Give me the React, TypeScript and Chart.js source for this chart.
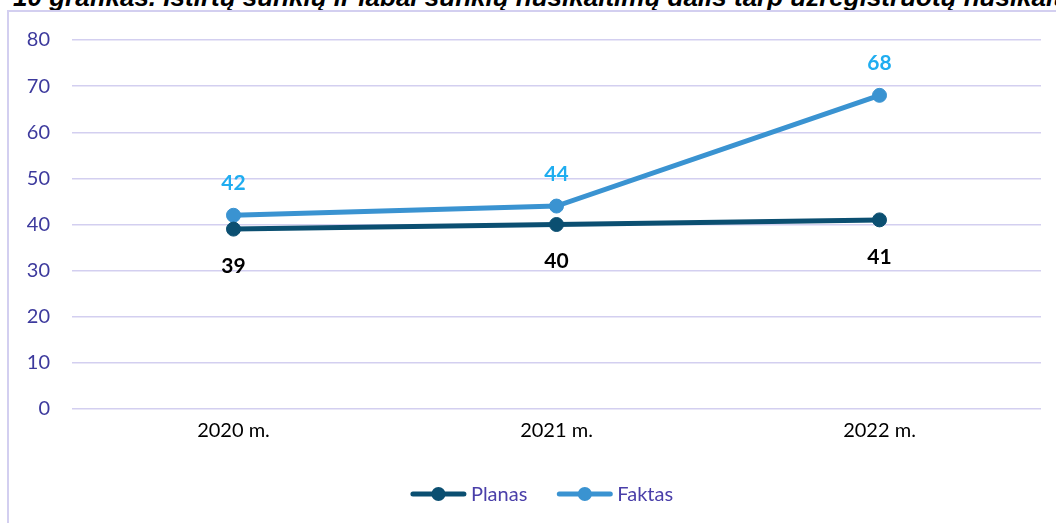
import React, { useEffect, useRef } from "react";
import { Chart, registerables } from "chart.js";

Chart.register(...registerables);

const titleText =
  "10 grafikas. Ištirtų sunkių ir labai sunkių nusikaltimų dalis tarp užregistruotų nusikaltimų";
const categories = ["2020 m.", "2021 m.", "2022 m."];
const planas = [39, 40, 41];
const faktas = [42, 44, 68];
const seriesNames = ["Planas", "Faktas"];
const yTicks = [0, 10, 20, 30, 40, 50, 60, 70, 80];

const PLANAS_COLOR = "#0b4f71";
const FAKTAS_COLOR = "#3a93d1";
const FONT = "Lato, 'Open Sans', sans-serif";

const labelsPlugin = {
  id: "valueLabels",
  afterDatasetsDraw(chart: any) {
    const ctx = chart.ctx;
    ctx.save();
    ctx.font = `bold 21px ${FONT}`;
    ctx.textAlign = "center";
    ctx.textBaseline = "middle";
    chart.data.datasets.forEach((ds: any, i: number) => {
      const meta = chart.getDatasetMeta(i);
      meta.data.forEach((pt: any, j: number) => {
        const v = ds.data[j];
        if (i === 1) {
          ctx.fillStyle = "#1fadf0";
          ctx.fillText(String(v), pt.x, pt.y - 32);
        } else {
          ctx.fillStyle = "#000000";
          ctx.fillText(String(v), pt.x, pt.y + 37);
        }
      });
    });
    ctx.restore();
  },
};

const legendPlugin = {
  id: "customLegend",
  afterDraw(chart: any) {
    const ctx = chart.ctx;
    ctx.save();
    ctx.font = `20px ${FONT}`;
    ctx.textBaseline = "middle";
    const lineW = 55;
    const gapText = 5;
    const gapItem = 30;
    const colors = [PLANAS_COLOR, FAKTAS_COLOR];
    const widths = seriesNames.map((n) => ctx.measureText(n).width);
    const total = widths.reduce((a, w) => a + lineW + gapText + w, 0) + gapItem;
    let x = chart.width / 2 + 14 - total / 2;
    const y = 494;
    seriesNames.forEach((name, i) => {
      ctx.strokeStyle = colors[i];
      ctx.lineWidth = 5;
      ctx.lineCap = "round";
      ctx.beginPath();
      ctx.moveTo(x + 2, y);
      ctx.lineTo(x + lineW - 2, y);
      ctx.stroke();
      ctx.fillStyle = colors[i];
      ctx.beginPath();
      ctx.arc(x + lineW / 2, y, 7, 0, Math.PI * 2);
      ctx.fill();
      ctx.fillStyle = "#4a3fa9";
      ctx.textAlign = "left";
      ctx.fillText(name, x + lineW + gapText, y + 1);
      x += lineW + gapText + widths[i] + gapItem;
    });
    ctx.restore();
  },
};

export default function App() {
  const ref = useRef<HTMLCanvasElement | null>(null);

  useEffect(() => {
    if (!ref.current) return;
    const chart = new Chart(ref.current, {
      type: "line",
      data: {
        labels: categories,
        datasets: [
          {
            label: seriesNames[0],
            data: planas,
            borderColor: PLANAS_COLOR,
            backgroundColor: PLANAS_COLOR,
            borderWidth: 5,
            pointRadius: 7,
            pointBorderWidth: 1,
            pointBackgroundColor: PLANAS_COLOR,
            pointBorderColor: PLANAS_COLOR,
            tension: 0,
          },
          {
            label: seriesNames[1],
            data: faktas,
            borderColor: FAKTAS_COLOR,
            backgroundColor: FAKTAS_COLOR,
            borderWidth: 5,
            pointRadius: 7,
            pointBorderWidth: 1,
            pointBackgroundColor: FAKTAS_COLOR,
            pointBorderColor: FAKTAS_COLOR,
            tension: 0,
          },
        ],
      },
      options: {
        responsive: false,
        animation: false,
        devicePixelRatio: 1,
        layout: { padding: { left: 20, right: 15, top: 40, bottom: 74 } },
        plugins: {
          legend: { display: false },
          tooltip: { enabled: false },
          title: { display: false },
        },
        scales: {
          x: {
            offset: true,
            grid: { display: false, drawTicks: false },
            border: { display: false },
            ticks: {
              color: "#000000",
              font: { family: FONT, size: 20 },
              padding: 10,
            },
            afterFit: (scale: any) => {
              scale.height = 40;
            },
          },
          y: {
            min: 0,
            max: 80,
            afterBuildTicks: (scale: any) => {
              scale.ticks = yTicks.map((v) => ({ value: v }));
            },
            grid: { color: "#d3cff0", lineWidth: 1.5, drawTicks: false },
            border: { display: false },
            ticks: {
              color: "#3d3a9d",
              font: { family: FONT, size: 20 },
              padding: 22,
            },
            afterFit: (scale: any) => {
              scale.width = 52;
            },
          },
        },
      },
      plugins: [labelsPlugin, legendPlugin],
    });
    return () => chart.destroy();
  }, []);

  return (
    <div
      style={{
        position: "fixed",
        left: 0,
        top: 0,
        width: 1056,
        height: 523,
        overflow: "hidden",
        background: "#ffffff",
      }}
    >
      <div
        style={{
          position: "absolute",
          left: 13,
          top: -16,
          whiteSpace: "nowrap",
          font: "italic bold 26px/26px 'Liberation Sans', Arial, sans-serif",
          color: "#000000",
        }}
      >
        {titleText}
      </div>
      <div
        style={{
          position: "absolute",
          left: 7,
          top: 10,
          width: 1200,
          height: 700,
          border: "2px solid #d3cff0",
          boxSizing: "border-box",
        }}
      />
      <canvas
        ref={ref}
        width={1056}
        height={523}
        style={{ position: "absolute", left: 0, top: 0, width: 1056, height: 523 }}
      />
    </div>
  );
}
